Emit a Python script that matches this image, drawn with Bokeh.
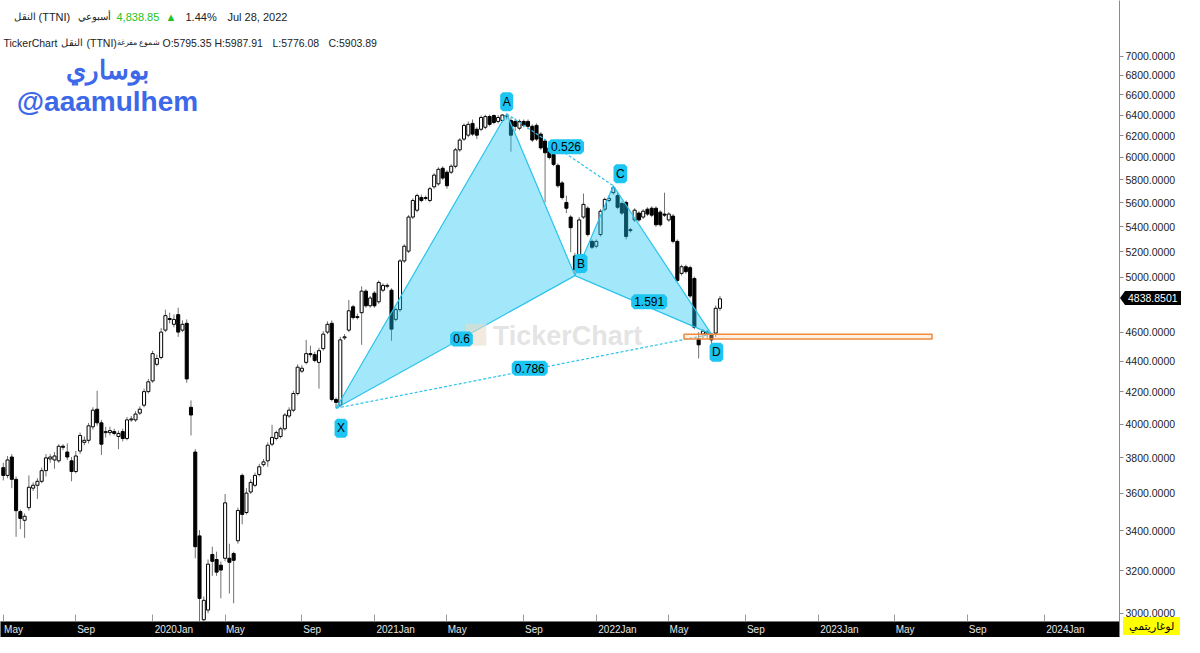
import math
import pandas as pd
from bokeh.plotting import figure
from bokeh.models import (ColumnDataSource, Range1d, FixedTicker, Label, LabelSet,
                          PrintfTickFormatter, GridBox, Div)
from bokeh.core.properties import value
from bokeh.embed import file_html
from bokeh.resources import INLINE

# ---------------- data (weekly candles, last bar week of 2022-07-24) ----------------
last_bar = "2022-07-24"
opens = [3743, 3699, 3804, 3677, 3501, 3455, 3522, 3628, 3644, 3666, 3726, 3793, 3787, 3782, 3867, 3833, 3782, 3721, 3839, 3890,
         3902, 3983, 4091, 4007, 3948, 3948, 3954, 3925, 3954, 3913, 4025, 4025, 4067, 4116, 4202, 4271, 4380, 4426, 4614, 4696,
         4655, 4724, 4614, 4662, 4103, 3833, 3374, 2970, 3014, 3280, 3255, 3227, 3261, 3261, 3285, 3349, 3699, 3496, 3607, 3644,
         3704, 3760, 3782, 3879, 3913, 3925, 3971, 4049, 4085, 4190, 4335, 4393, 4452, 4445, 4393, 4486, 4600, 4662, 4152, 4116,
         4560, 4614, 4781, 4703, 4738, 4896, 4788, 4881, 4817, 4903, 4932, 4903, 4690, 4760, 5126, 5203, 5480, 5537, 5645, 5637,
         5620, 5738, 5764, 5902, 5867, 5867, 5920, 6070, 6170, 6207, 6319, 6263, 6263, 6282, 6385, 6395, 6338, 6347, 6385, 6347,
         6338, 6273, 6338, 6338, 6291, 6300, 6217,
         6152, 6088, 6026, 5928, 5772, 5603, 5480, 5165, 5043, 5480, 5554, 5281, 5242, 5336, 5546, 5620, 5687, 5662, 5595, 5603,
         5368, 5456, 5513, 5480, 5546, 5554, 5554, 5521, 5505, 5456, 5488, 5281, 5030, 5081, 5074, 4991, 4553, 4586, 4593, 4586,
         4593, 4770]
highs = [3771, 3810, 3821, 3693, 3512, 3491, 3699, 3660, 3683, 3743, 3821, 3821, 3833, 3879, 3879, 3884, 3804, 3839, 3948, 3925,
         4007, 4103, 4208, 4025, 3983, 3983, 3971, 3960, 3971, 4043, 4049, 4079, 4109, 4221, 4284, 4472, 4445, 4628, 4760, 4738,
         4724, 4774, 4683, 4690, 4146, 3850, 3404, 3077, 3255, 3319, 3294, 3246, 3596, 3334, 3294, 3522, 3710, 3628, 3677, 3715,
         3765, 3793, 3890, 3995, 3960, 3983, 4067, 4103, 4208, 4380, 4374, 4546, 4506, 4465, 4492, 4607, 4676, 4683, 4165, 4567,
         4586, 4831, 4795, 4731, 4932, 4910, 4860, 4896, 4976, 4954, 4954, 4917, 4774, 5141, 5258, 5496, 5637, 5679, 5670, 5662,
         5738, 5858, 5911, 5920, 5884, 5937, 6088, 6179, 6319, 6338, 6357, 6282, 6395, 6404, 6404, 6405, 6400, 6408, 6413, 6376,
         6366, 6357, 6357, 6357, 6310, 6319, 6235,
         6170, 6106, 6043, 5946, 5790, 5662, 5496, 5188, 5480, 5679, 5570, 5297, 5297, 5546, 5645, 5662, 5747, 5696, 5612, 5620,
         5392, 5554, 5529, 5546, 5562, 5570, 5570, 5537, 5687, 5521, 5505, 5297, 5097, 5097, 5089, 5006, 4600, 4621, 4614, 4593,
         4790, 4860]
lows = [3671, 3683, 3628, 3369, 3409, 3364, 3506, 3612, 3569, 3655, 3693, 3771, 3737, 3771, 3844, 3787, 3666, 3710, 3821, 3873,
        3884, 3966, 3989, 3816, 3919, 3931, 3931, 3850, 3896, 3902, 4013, 4013, 4055, 4103, 4190, 4259, 4367, 4413, 4600, 4662,
        4634, 4567, 4600, 4259, 3931, 3261, 2961, 2947, 3000, 3175, 3175, 3068, 3246, 3091, 3045, 3334, 3434, 3486, 3596, 3633,
        3693, 3748, 3748, 3867, 3902, 3913, 3960, 4037, 4073, 4177, 4322, 4380, 4426, 4393, 4221, 4472, 4586, 4140, 4097, 4103,
        4546, 4600, 4689, 4689, 4512, 4774, 4774, 4774, 4802, 4888, 4917, 4539, 4676, 4745, 5111, 5188, 5464, 5520, 5604, 5620,
        5604, 5721, 5747, 5798, 5721, 5850, 5902, 6052, 6152, 6188, 6198, 6170, 6245, 6263, 6291, 6310, 6319, 6328, 6357, 6053,
        6245, 6254, 6282, 6263, 6143, 6152, 6070,
        5603, 5982, 5920, 5730, 5629, 5513, 5195, 5013, 5028, 5464, 5320, 5219, 5226, 5320, 5529, 5604, 5670, 5546, 5496, 5297,
        5352, 5440, 5440, 5464, 5488, 5480, 5400, 5400, 5480, 5440, 5265, 4961, 5013, 5028, 4845, 4620, 4419, 4553, 4560, 4519,
        4567, 4752]
closes = [3699, 3787, 3677, 3506, 3465, 3476, 3633, 3644, 3666, 3726, 3799, 3804, 3810, 3867, 3861, 3804, 3721, 3810, 3931, 3902,
          3989, 4085, 4007, 3879, 3954, 3960, 3943, 3943, 3913, 4025, 4031, 4061, 4091, 4202, 4265, 4452, 4419, 4600, 4717, 4689,
          4690, 4600, 4655, 4284, 4055, 3319, 3068, 3059, 3232, 3246, 3193, 3203, 3548, 3241, 3251, 3507, 3486, 3601, 3660, 3699,
          3748, 3776, 3873, 3919, 3948, 3971, 4055, 4085, 4190, 4361, 4354, 4452, 4445, 4406, 4472, 4586, 4655, 4152, 4134, 4546,
          4567, 4752, 4703, 4710, 4896, 4788, 4845, 4788, 4961, 4939, 4939, 4621, 4760, 5126, 5242, 5480, 5620, 5662, 5620, 5645,
          5721, 5841, 5893, 5815, 5747, 5920, 6070, 6161, 6300, 6310, 6217, 6207, 6376, 6385, 6310, 6328, 6376, 6400, 6395, 6207,
          6291, 6338, 6300, 6291, 6161, 6170, 6088,
          6043, 6000, 5937, 5747, 5645, 5554, 5392, 5058, 5456, 5587, 5336, 5234, 5281, 5529, 5629, 5637, 5730, 5562, 5513, 5320,
          5376, 5538, 5456, 5529, 5505, 5496, 5416, 5416, 5496, 5505, 5281, 4976, 5081, 5043, 4860, 4634, 4512, 4607, 4600, 4546,
          4770, 4838.85]

# harmonic pattern points
pt_names = ["X", "A", "B", "C", "D"]
pt_dates = ["2020-11-01", "2021-08-08", "2021-11-28", "2022-01-30", "2022-07-10"]
pt_prices = [4097, 6413, 5013, 5747, 4586]
ratio_texts = ["0.6", "0.526", "0.786", "1.591"]
ratio_pairs = [("X", "B"), ("A", "C"), ("X", "D"), ("B", "D")]

# target zone box
zone_dates = ["2022-05-26", "2023-07-07"]
zone_prices = [4552, 4586]

# axes
y_ticks = [3000, 3200, 3400, 3600, 3800, 4000, 4200, 4400, 4600, 5000, 5200, 5400, 5600, 5800,
           6000, 6200, 6400, 6600, 6800, 7000]
x_tick_months = ["2019-05-01", "2019-09-01", "2020-01-01", "2020-05-01", "2020-09-01", "2021-01-01",
                 "2021-05-01", "2021-09-01", "2022-01-01", "2022-05-01", "2022-09-01", "2023-01-01",
                 "2023-05-01", "2023-09-01", "2024-01-01"]
x_tick_labels = ["May", "Sep", "2020Jan", "May", "Sep", "2021Jan", "May", "Sep", "2022Jan",
                 "May", "Sep", "2023Jan", "May", "Sep", "2024Jan"]
last_price = 4838.85
last_price_text = "4838.8501"
scale_text = "لوغاريتمي"

# ---------------- figure ----------------
W, H = 1184, 637
RB, BB = 65, 16
FW, FH = W - RB, H - BB
x0, x1 = pd.Timestamp("2019-04-30 10:00"), pd.Timestamp("2024-05-09 14:00")
y_lo, y_hi = 2962, 7618

p = figure(width=W, height=H, x_axis_type="datetime", y_axis_type="log",
           x_range=Range1d(x0, x1), y_range=Range1d(y_lo, y_hi),
           y_axis_location="right", output_backend="svg", toolbar_location=None,
           min_border_left=0, min_border_top=0, min_border_right=RB, min_border_bottom=BB)
p.outline_line_color = None
p.grid.visible = False
p.background_fill_color = "white"
p.border_fill_color = "white"

n = len(opens)
dates = pd.date_range(end=last_bar, periods=n, freq="7D")
df = pd.DataFrame(dict(date=dates, open=opens, high=highs, low=lows, close=closes))
inc = df[df.close >= df.open]
dec = df[df.close < df.open]
BW = 5 * 24 * 3600 * 1000

p.segment(x0="date", y0="high", x1="date", y1="low", source=ColumnDataSource(df),
          line_color="#707070", line_width=1)
p.vbar(x="date", width=BW, top="close", bottom="open", source=ColumnDataSource(inc),
       fill_color="white", line_color="black", line_width=1)
p.vbar(x="date", width=BW, top="open", bottom="close", source=ColumnDataSource(dec),
       fill_color="black", line_color="black", line_width=1)

# pattern
pts = {nm: (pd.Timestamp(d), v) for nm, d, v in zip(pt_names, pt_dates, pt_prices)}
fill_c, line_c = "#17C6F3", "#2BC3EC"
for tri in (("X", "A", "B"), ("B", "C", "D")):
    p.patch(x=[pts[k][0] for k in tri], y=[pts[k][1] for k in tri],
            fill_color=fill_c, fill_alpha=0.4, line_color=line_c, line_width=1.2)
for a, b in (("A", "C"), ("X", "D")):
    p.line(x=[pts[a][0], pts[b][0]], y=[pts[a][1], pts[b][1]],
           line_color=line_c, line_width=1.2, line_dash="3 2")

# target zone
p.quad(left=[pd.Timestamp(zone_dates[0])], right=[pd.Timestamp(zone_dates[1])],
       bottom=[zone_prices[0]], top=[zone_prices[1]],
       fill_color="#FBD3B0", fill_alpha=0.35, line_color="#F08A3C", line_width=1.5)


# ---------------- texts inside the chart ----------------
def lab(text, sx, sy, color="#222222", size="11px", align="left", bold=False, alpha=1.0,
        font="Liberation Sans"):
    L = Label(x=sx, y=sy, x_units="screen", y_units="screen", text=text, text_color=color,
              text_font=font, text_font_size=size, text_align=align, text_baseline="middle",
              text_font_style="bold" if bold else "normal", text_alpha=alpha)
    p.add_layout(L)

# TickerChart watermark (icon + word), under the pattern labels
lab("■", 475, 289, color="#e8dcc6", size="28px", align="center", alpha=0.6, font="DejaVu Sans")
lab("TickerChart", 567, 286, color="#b8b8b8", size="27px", align="center", bold=True, alpha=0.4)

# pattern labels
box_c = "#1CC5F2"
letter_dx = [5, 0, 6, 7, 5]
letter_dy = [-20, 12, 12, 12, -18]
lsrc = ColumnDataSource(dict(x=[pts[k][0] for k in pt_names], y=[pts[k][1] for k in pt_names],
                             text=pt_names, dx=letter_dx, dy=letter_dy))
mx, my = [], []
for a, b in ratio_pairs:
    mx.append(pts[a][0] + (pts[b][0] - pts[a][0]) / 2)
    my.append((pts[a][1] * pts[b][1]) ** 0.5)
rsrc = ColumnDataSource(dict(x=mx, y=my, text=ratio_texts))

for src, xo, yo, bw in ((lsrc, "dx", "dy", 5), (rsrc, 6, 3, 6)):
    ls = LabelSet(x="x", y="y", text="text", source=src, x_offset=xo, y_offset=yo,
                  text_align="center", text_baseline="middle",
                  text_font=value("Liberation Sans"), text_font_size="12px", text_color="black",
                  background_fill_color=box_c, background_fill_alpha=1.0,
                  border_line_color=box_c, border_line_width=bw)
    p.add_layout(ls)

# ---------------- axes ----------------
yax = p.yaxis[0]
yax.ticker = FixedTicker(ticks=y_ticks)
yax.formatter = PrintfTickFormatter(format="%.4f")
yax.major_label_text_font = "Liberation Sans"
yax.major_label_text_font_size = "10.5px"
yax.major_label_text_color = "#222222"
yax.axis_line_color = "#8a8a8a"
yax.major_tick_line_color = "#8a8a8a"
yax.major_tick_in = 0
yax.major_tick_out = 4
yax.minor_tick_line_color = None
yax.major_label_standoff = 2

week_grid = pd.date_range(start=dates[0] - pd.Timedelta(days=28), end="2024-12-31", freq="7D")
ms_per_px = (x1 - x0).total_seconds() * 1000 / FW
minors, majors, overrides = [], [], {}
for m, lab_txt in zip(x_tick_months, x_tick_labels):
    t = week_grid[week_grid >= pd.Timestamp(m)][0]
    tms = float(t.value // 10**6)
    cms = tms + (2 + 2.75 * len(lab_txt)) * ms_per_px
    minors.append(tms)
    majors.append(cms)
    overrides[cms] = lab_txt

xax = p.xaxis[0]
xax.ticker = FixedTicker(ticks=majors, minor_ticks=minors)
xax.major_label_overrides = overrides
xax.major_tick_line_color = None
xax.major_tick_in = 0
xax.major_tick_out = 0
xax.minor_tick_line_color = "#9a9a9a"
xax.minor_tick_in = 7
xax.minor_tick_out = 0
xax.axis_line_color = "#777777"
xax.major_label_text_font = "Liberation Sans"
xax.major_label_text_font_size = "10px"
xax.major_label_text_color = "#e6e6e6"
xax.major_label_standoff = 2
if "background_fill_color" in xax.properties():
    xax.background_fill_color = "black"
    xax.background_fill_alpha = 1.0

# header line 1
lab("النقل", 13, 605, size="10px")
lab("(TTNI)", 38, 605)
lab("أسبوعي", 77, 605, size="10px")
lab("4,838.85", 116, 605, color="#22c322")
lab("▲", 165, 605, color="#22c322")
lab("1.44%", 185, 605)
lab("Jul 28, 2022", 227, 605)
# header line 2
lab("TickerChart", 3, 579, size="10.5px")
lab("النقل", 60, 579, size="9.5px")
lab("(TTNI)", 86, 579, size="10.5px")
lab("شموع مفرغة", 116, 579, size="8px")
lab("O:5795.35", 162, 579, size="10.5px")
lab("H:5987.91", 214, 579, size="10.5px")
lab("L:5776.08", 272, 579, size="10.5px")
lab("C:5903.89", 328, 579, size="10.5px")

# author watermark
lab("بوساري", 107, 552, color="#3D68E8", size="26px", align="center", bold=True)
lab("@aaamulhem", 107, 520, color="#3D68E8", size="28px", align="center", bold=True)

# ---------------- tags on the price scale (HTML overlay on the same grid cell) ----------------
lh, ll = math.log(y_hi), math.log(y_lo)
ty = FH * (lh - math.log(last_price)) / (lh - ll)
font_css = "font-family:'Liberation Sans','DejaVu Sans',sans-serif;"
html = (
    f'<div style="position:relative;width:{W}px;height:{H}px;pointer-events:none;">'
    f'<div style="position:absolute;left:{FW + 1}px;top:{ty - 7:.1f}px;width:0;height:0;'
    f'border-top:7px solid transparent;border-bottom:7px solid transparent;border-right:5px solid black;"></div>'
    f'<div style="position:absolute;left:{FW + 6}px;top:{ty - 7:.1f}px;height:14px;line-height:14px;'
    f'padding:0 3px;background:black;color:white;font-size:10.5px;white-space:nowrap;{font_css}">'
    f'{last_price_text}</div>'
    f'<div style="position:absolute;left:{FW + 4}px;top:{H - 20}px;height:18px;line-height:18px;'
    f'padding:0 6px;background:#FFFF00;color:black;font-size:11px;white-space:nowrap;{font_css}">'
    f'{scale_text}</div>'
    f'</div>'
)
tags = Div(text=html, width=W, height=H, margin=(0, 0, 0, 0))

layout = GridBox(children=[(p, 0, 0), (tags, 0, 0)])
open("out.html", "w").write(file_html(layout, INLINE))
